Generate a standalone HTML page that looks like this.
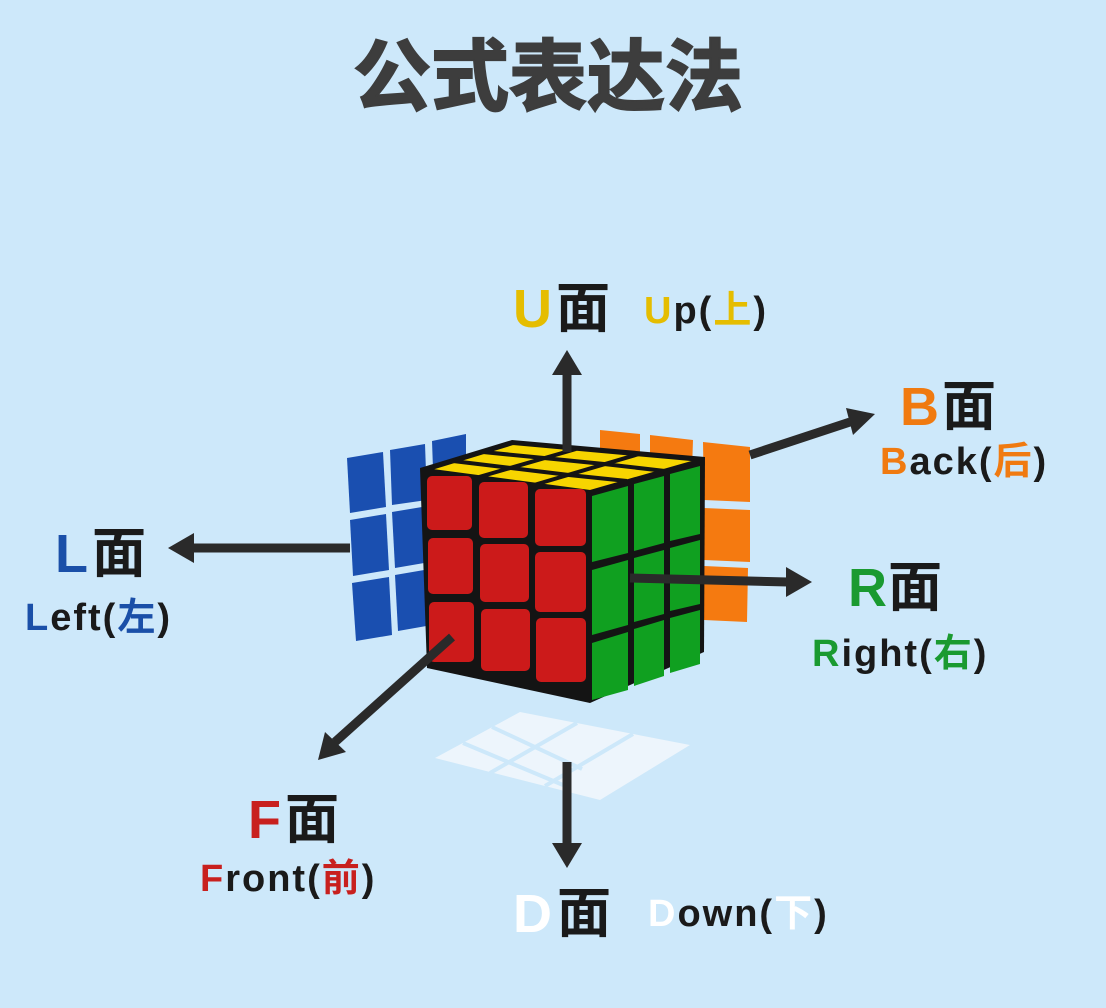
<!DOCTYPE html>
<html><head><meta charset="utf-8"><style>
html,body{margin:0;padding:0;background:#cde8fa;}
svg{display:block}
text{font-family:"Liberation Sans","Noto Sans CJK SC",sans-serif;font-weight:bold}
</style></head><body>
<svg width="1106" height="1008" viewBox="0 0 1106 1008" xmlns="http://www.w3.org/2000/svg">
<rect width="1106" height="1008" fill="#cde8fa"/>
<text x="548" y="104" font-size="78" fill="#3d3d3d" text-anchor="middle" font-family="Noto Sans CJK SC" font-weight="900" stroke="#3d3d3d" stroke-width="2">公式表达法</text>

<!-- white D face -->
<polygon points="435,758 520,712 690,745 600,800" fill="#f2f7fb" opacity="0.85"/>
<g stroke="#cde8fa" stroke-width="4">
<line x1="490" y1="773" x2="577" y2="723"/>
<line x1="545" y1="786" x2="633" y2="734"/>
<line x1="463" y1="743" x2="563" y2="785"/>
<line x1="492" y1="727" x2="582" y2="769"/>
</g>

<!-- blue L panel -->
<g fill="#1a4fb0">
<polygon points="347,458 383,452 386,507 350,513" />
<polygon points="390,450 425,444 427,500 392,505" />
<polygon points="432,441 466,434 466,492 434,497" />
<polygon points="350,520 386,514 389,570 353,576" />
<polygon points="392,512 428,506 430,562 395,568" />
<polygon points="352,583 389,577 392,635 356,641" />
<polygon points="395,575 430,569 432,625 398,631" />
</g>
<!-- orange B panel -->
<g fill="#f57a10">
<polygon points="600,430 640,434 640,460 600,458"/>
<polygon points="650,435 693,440 692,470 650,466"/>
<polygon points="703,442 750,447 750,502 704,500"/>
<polygon points="704,508 750,510 750,562 704,560"/>
<polygon points="704,566 748,568 747,622 704,620"/>
</g>

<!-- cube body -->
<polygon points="420,468 512,440 705,457 704,652 590,703 427,668" fill="#141414"/>
<!-- top face yellow -->
<polygon points="425,470 590,492 702,460 513,443" fill="#f7d500"/>
<g stroke="#141414" stroke-width="4" fill="none">
<polyline points="453,461 511,468 569,475 627,481"/>
<polyline points="483,452 544,458 604,464 665,471"/>
<line x1="479" y1="477" x2="576" y2="449"/>
<line x1="534" y1="485" x2="639" y2="454"/>
<polygon points="425,470 590,492 702,460 513,443"/>
</g>
<!-- front face red -->
<g fill="#cc1a1a">
<rect x="427" y="476" width="45" height="54" rx="5"/>
<rect x="479" y="482" width="49" height="56" rx="5"/>
<rect x="535" y="489" width="51" height="57" rx="5"/>
<rect x="428" y="538" width="45" height="56" rx="5"/>
<rect x="480" y="544" width="49" height="58" rx="5"/>
<rect x="535" y="552" width="51" height="60" rx="5"/>
<rect x="429" y="602" width="45" height="60" rx="5"/>
<rect x="481" y="609" width="49" height="62" rx="5"/>
<rect x="536" y="618" width="50" height="64" rx="5"/>
</g>
<!-- right face green -->
<g fill="#10a020">
<polygon points="592,496 628,486 628,553 592,562"/>
<polygon points="634,484 664,476 664,543 634,551"/>
<polygon points="670,474 700,466 700,534 670,541"/>
<polygon points="592,570 628,560 628,625 592,635"/>
<polygon points="634,558 664,550 664,614 634,622"/>
<polygon points="670,548 700,540 700,604 670,611"/>
<polygon points="592,643 628,632 628,690 592,700"/>
<polygon points="634,629 664,620 664,676 634,686"/>
<polygon points="670,618 700,610 700,664 670,673"/>
</g>

<!-- arrows -->
<g stroke="#2a2a2a" stroke-width="9" fill="#2a2a2a">
<line x1="567" y1="452" x2="567" y2="372"/>
<line x1="750" y1="455" x2="850" y2="422"/>
<line x1="350" y1="548" x2="192" y2="548"/>
<line x1="630" y1="578" x2="788" y2="582"/>
<line x1="452" y1="637" x2="335" y2="742"/>
<line x1="567" y1="762" x2="567" y2="846"/>
</g>
<g fill="#2a2a2a">
<polygon points="567,350 552,375 582,375"/>
<polygon points="875,414 846,408 853,435"/>
<polygon points="168,548 194,533 194,563"/>
<polygon points="812,582 786,567 786,597"/>
<polygon points="318,760 325,732 346,752"/>
<polygon points="567,868 552,843 582,843"/>
</g>

<!-- labels -->
<text x="513" y="327" font-size="54" fill="#e5bd00">U</text>
<text x="556" y="327" font-size="54" fill="#1a1a1a" font-family="Noto Sans CJK SC">面</text>
<text x="644" y="323" font-size="38" letter-spacing="2" fill="#1a1a1a"><tspan fill="#e5bd00">U</tspan>p(<tspan fill="#e5bd00" font-family="Noto Sans CJK SC">上</tspan>)</text>

<text x="900" y="425" font-size="54" fill="#f07a10">B</text>
<text x="942" y="425" font-size="54" fill="#1a1a1a" font-family="Noto Sans CJK SC">面</text>
<text x="880" y="474" font-size="38" letter-spacing="2" fill="#1a1a1a"><tspan fill="#f07a10">B</tspan>ack(<tspan fill="#f07a10" font-family="Noto Sans CJK SC">后</tspan>)</text>

<text x="55" y="572" font-size="54" fill="#1a4fa8">L</text>
<text x="92" y="572" font-size="54" fill="#1a1a1a" font-family="Noto Sans CJK SC">面</text>
<text x="25" y="630" font-size="38" letter-spacing="2" fill="#1a1a1a"><tspan fill="#1a4fa8">L</tspan>eft(<tspan fill="#1a4fa8" font-family="Noto Sans CJK SC">左</tspan>)</text>

<text x="848" y="606" font-size="54" fill="#1a9a30">R</text>
<text x="888" y="606" font-size="54" fill="#1a1a1a" font-family="Noto Sans CJK SC">面</text>
<text x="812" y="666" font-size="38" letter-spacing="2" fill="#1a1a1a"><tspan fill="#1a9a30">R</tspan>ight(<tspan fill="#1a9a30" font-family="Noto Sans CJK SC">右</tspan>)</text>

<text x="248" y="838" font-size="54" fill="#c8201e">F</text>
<text x="285" y="838" font-size="54" fill="#1a1a1a" font-family="Noto Sans CJK SC">面</text>
<text x="200" y="891" font-size="38" letter-spacing="2" fill="#1a1a1a"><tspan fill="#c8201e">F</tspan>ront(<tspan fill="#c8201e" font-family="Noto Sans CJK SC">前</tspan>)</text>

<text x="513" y="932" font-size="54" fill="#ffffff">D</text>
<text x="557" y="932" font-size="54" fill="#1a1a1a" font-family="Noto Sans CJK SC">面</text>
<text x="648" y="926" font-size="38" letter-spacing="2" fill="#1a1a1a"><tspan fill="#ffffff">D</tspan>own(<tspan fill="#ffffff" font-family="Noto Sans CJK SC">下</tspan>)</text>
</svg>
</body></html>
